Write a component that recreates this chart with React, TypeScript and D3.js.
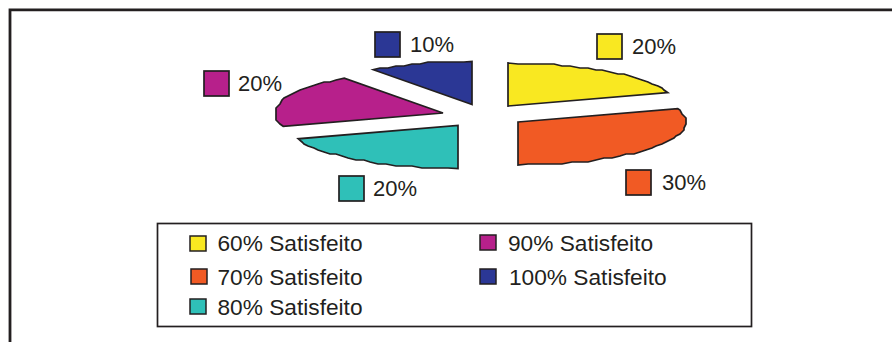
import React from "react";
import * as d3 from "d3";

const categories = ["60% Satisfeito", "70% Satisfeito", "80% Satisfeito", "90% Satisfeito", "100% Satisfeito"];
const shares = [20, 30, 20, 20, 10];
const fills = ["#f9e821", "#f15a24", "#2fc0b8", "#b7208b", "#2b3795"];
const INK = "#231f20";

// Where each exploded slice has its tip.
const sliceTips: [number, number][] = [[508, 106], [518, 122], [458, 125.5], [443, 113], [472, 104.5]];
// Swatch + percentage callouts: swatch left, swatch top, text x.
const calloutAt: [number, number, number][] = [[597, 34, 632], [626, 170, 662], [339, 176, 373], [204, 71, 238], [375, 32, 410]];
// Legend rows: swatch left, swatch top, text x, baseline.
const legendAt: [number, number, number, number][] = [
  [190, 236, 217.5, 251],
  [191, 269, 217.5, 285],
  [190, 299, 217.5, 315],
  [480, 235, 508, 251],
  [480, 269, 509, 285],
];

const RX = 168;
const RY = 43;

const pieLayout = d3.pie<number>().sort(null).startAngle(0).endAngle(2 * Math.PI);

// Outline of a flattened slice; the rim is a chain of short chords snapped to
// a coarse pixel grid, which gives it the stepped look of a traced contour.
function sliceOutline(a0: number, a1: number, tip: [number, number]): string {
  const steps = Math.max(4, Math.round(((a1 - a0) * RX) / 9));
  const angle = d3.scaleLinear().domain([0, steps]).range([a0, a1]);
  const rim = d3.range(steps + 1).map((i): [number, number] => {
    const [px, py] = d3.pointRadial(angle(i), 1);
    const x = tip[0] + px * RX;
    const y = tip[1] + py * RY;
    return i === 0 || i === steps ? [x, y] : [Math.round(x / 2) * 2, Math.round(y / 2) * 2];
  });
  return d3.line().curve(d3.curveLinearClosed)([tip, ...rim]) ?? "";
}

export default function App() {
  const slices = pieLayout(shares);
  return (
    <svg
      width={892}
      height={342}
      style={{ position: "absolute", left: 0, top: 0, background: "#fff" }}
      fontFamily="'Liberation Sans', Arial, sans-serif"
      fill={INK}
    >
      <path d="M10 342V9.8H892" fill="none" stroke={INK} strokeWidth={2.8} />

      {slices.map((s, i) => (
        <path
          key={categories[i]}
          d={sliceOutline(s.startAngle, s.endAngle, sliceTips[i])}
          fill={fills[i]}
          stroke={INK}
          strokeWidth={1.7}
          strokeLinejoin="miter"
        />
      ))}

      {shares.map((v, i) => (
        <g key={categories[i]}>
          <rect x={calloutAt[i][0]} y={calloutAt[i][1]} width={25} height={25} fill={fills[i]} stroke={INK} strokeWidth={1.7} />
          <text x={calloutAt[i][2]} y={calloutAt[i][1] + 20} fontSize={22}>{v}%</text>
        </g>
      ))}

      <rect x={157.5} y={223.5} width={594} height={103} fill="#fff" stroke={INK} strokeWidth={1.7} />
      {categories.map((c, i) => (
        <g key={c}>
          <rect x={legendAt[i][0]} y={legendAt[i][1]} width={16} height={15} fill={fills[i]} stroke={INK} strokeWidth={1.5} />
          <text x={legendAt[i][2]} y={legendAt[i][3]} fontSize={22.7}>{c}</text>
        </g>
      ))}
    </svg>
  );
}
